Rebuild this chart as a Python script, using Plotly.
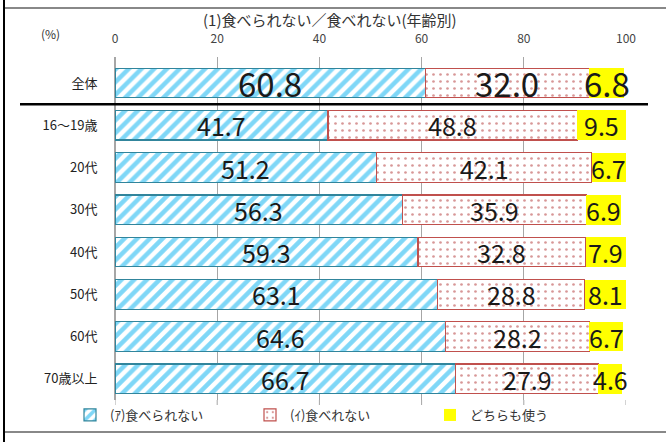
import plotly.graph_objects as go

categories = ["全体", "16～19歳", "20代", "30代", "40代", "50代", "60代", "70歳以上"]
taberarenai = [60.8, 41.7, 51.2, 56.3, 59.3, 63.1, 64.6, 66.7]
taberenai = [32.0, 48.8, 42.1, 35.9, 32.8, 28.8, 28.2, 27.9]
dochiramo = [6.8, 9.5, 6.7, 6.9, 7.9, 8.1, 6.7, 4.6]
series_names = ["(ｱ)食べられない", "(ｲ)食べれない", "どちらも使う"]
x_ticks = [0, 20, 40, 60, 80, 100]

FONT = "Noto Sans CJK JP"
W, H = 666, 442
L, R, T, B = 115, 40, 57, 42
PW, PH = W - L - R, H - T - B

def px(x):
    return (x - L) / PW

def py(y):
    return (H - B - y) / PH

sizes = [33] + [25] * (len(categories) - 1)

fig = go.Figure()
fig.add_trace(go.Bar(
    y=categories, x=taberarenai, name=series_names[0], orientation="h",
    marker=dict(color="white", line=dict(color="#31859C", width=1.2),
                pattern=dict(shape="/", fgcolor="#00B0F0", bgcolor="white", size=9, solidity=0.5)),
))
fig.add_trace(go.Bar(
    y=categories, x=taberenai, name=series_names[1], orientation="h",
    marker=dict(color="white", line=dict(color="#C0504D", width=1.2),
                pattern=dict(shape=".", fgcolor="#B03030", bgcolor="white", size=7, solidity=0.12)),
))
fig.add_trace(go.Bar(
    y=categories, x=dochiramo, name=series_names[2], orientation="h",
    marker=dict(color="#FFFF00", line=dict(color="#FFFF00", width=0)),
))

# value labels centred in each stacked segment
for i, cat in enumerate(categories):
    start = 0.0
    for series in (taberarenai, taberenai, dochiramo):
        v = series[i]
        fig.add_annotation(x=start + v / 2, y=cat, xref="x", yref="y", text=f"{v:.1f}",
                           showarrow=False, font=dict(size=sizes[i], color="#1a1a1a", family=FONT))
        start += v

fig.update_layout(
    width=W, height=H, barmode="stack", bargap=0.3,
    margin=dict(l=L, r=R, t=T, b=B, autoexpand=False),
    paper_bgcolor="white", plot_bgcolor="white",
    font=dict(family=FONT, color="#333333"),
    xaxis=dict(range=[0, 100], tickvals=x_ticks, side="top", showgrid=True, gridcolor="#A6A6A6",
               gridwidth=1, zeroline=True, zerolinecolor="#A6A6A6", showline=False,
               tickfont=dict(size=12, color="#444444", family=FONT), ticks="outside", ticklen=8,
               tickcolor="rgba(0,0,0,0)", fixedrange=True),
    yaxis=dict(categoryorder="array", categoryarray=categories, autorange="reversed",
               tickfont=dict(size=13, color="#222222", family=FONT), ticks="outside", ticklen=14,
               tickcolor="rgba(0,0,0,0)", showline=False, fixedrange=True),
    showlegend=True,
    legend=dict(orientation="h", x=px(70), y=py(400), xanchor="left", yanchor="top",
                font=dict(size=13, family=FONT, color="#333333"), itemwidth=30,
                entrywidthmode="pixels", entrywidth=135, traceorder="normal",
                bgcolor="rgba(0,0,0,0)"),
)

# separator between 全体 and age groups
fig.add_shape(type="line", xref="paper", yref="y", x0=px(20), x1=px(648), y0=0.5, y1=0.5,
              line=dict(color="black", width=2.5))
# bottom tick marks
for t in x_ticks:
    fig.add_shape(type="line", xref="x", yref="paper", x0=t, x1=t, y0=0, y1=py(405),
                  line=dict(color="#A6A6A6", width=1))
# frame lines
fig.add_shape(type="line", xref="paper", yref="paper", x0=px(4), x1=px(4), y0=py(0), y1=py(442),
              line=dict(color="black", width=2))
fig.add_shape(type="line", xref="paper", yref="paper", x0=px(5), x1=px(666), y0=py(8), y1=py(8),
              line=dict(color="#888888", width=2))
fig.add_shape(type="line", xref="paper", yref="paper", x0=px(5), x1=px(666), y0=py(432), y1=py(432),
              line=dict(color="#888888", width=2))

fig.add_annotation(text="(1)食べられない／食べれない(年齢別)", xref="paper", yref="paper",
                   x=px(330), y=py(20), xanchor="center", yanchor="middle", showarrow=False,
                   font=dict(size=15, family=FONT, color="#333333"))
fig.add_annotation(text="(%)", xref="paper", yref="paper", x=px(50), y=py(33),
                   xanchor="center", yanchor="middle", showarrow=False,
                   font=dict(size=12, family=FONT, color="#333333"))

fig.write_html("out.html", config={"displayModeBar": False},
               post_script="document.body.style.margin='0';")
